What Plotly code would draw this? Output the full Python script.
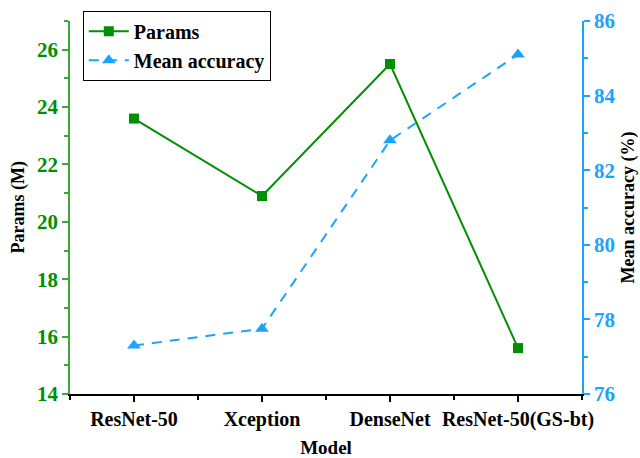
import plotly.graph_objects as go

models = ["ResNet-50", "Xception", "DenseNet", "ResNet-50(GS-bt)"]
params_m = [23.6, 20.9, 25.5, 15.6]
mean_acc = [77.3, 77.75, 82.8, 85.1]
params_ticks = [14, 16, 18, 20, 22, 24, 26]
acc_ticks = [76, 78, 80, 82, 84, 86]

GREEN = "#008f00"
GREEN_AXIS = "#3aaa3a"
BLUE = "#1aa3ff"
FONT = "Liberation Serif"

x_idx = list(range(len(models)))


def b(text):
    return f"<b>{text}</b>"


def font(size, color="black"):
    return dict(family=FONT, size=size, color=color)


fig = go.Figure()
fig.add_trace(go.Scatter(
    x=x_idx, y=params_m, name=b("Params"), mode="lines+markers",
    line=dict(color=GREEN, width=2),
    marker=dict(symbol="square", size=10, color=GREEN),
    yaxis="y",
))
fig.add_trace(go.Scatter(
    x=x_idx, y=mean_acc, name=b("Mean accuracy"), mode="lines+markers",
    line=dict(color=BLUE, width=2, dash="10px,8px"),
    marker=dict(symbol="triangle-up", size=12, color=BLUE),
    yaxis="y2",
))

fig.update_layout(
    width=640, height=458,
    margin=dict(l=70, r=58, t=20, b=64),
    paper_bgcolor="white", plot_bgcolor="white",
    font=dict(family=FONT, color="black"),
    showlegend=True,
    legend=dict(
        x=0.025, y=1.025, xanchor="left", yanchor="top",
        bordercolor="black", borderwidth=1, bgcolor="white",
        font=font(20),
        tracegroupgap=0, itemwidth=40,
    ),
    xaxis=dict(
        range=[-0.5, 3.5], tickmode="array", tickvals=x_idx,
        ticktext=[b(m) for m in models],
        showline=True, linecolor="black", linewidth=1.5, mirror=False,
        ticks="outside", ticklen=6, tickwidth=1.5, tickcolor="black",
        minor=dict(tickvals=[-0.5, 0.5, 1.5, 2.5, 3.5], ticks="outside", ticklen=4, tickwidth=1.5, tickcolor="black"),
        showgrid=False, zeroline=False, automargin=False,
        tickfont=font(20),
        title=dict(text=b("Model"), font=font(19)),
    ),
    yaxis=dict(
        range=[14, 27], tickmode="array", tickvals=params_ticks,
        ticktext=[b(v) for v in params_ticks],
        showline=True, linecolor=GREEN_AXIS, linewidth=1.5,
        ticks="outside", ticklen=6, tickwidth=1.5, tickcolor=GREEN_AXIS,
        minor=dict(tickvals=[15, 17, 19, 21, 23, 25, 27], ticks="outside", ticklen=4, tickwidth=1.5, tickcolor=GREEN_AXIS),
        showgrid=False, zeroline=False, automargin=False,
        tickfont=font(21, GREEN),
    ),
    yaxis2=dict(
        range=[76, 86], tickmode="array", tickvals=acc_ticks,
        ticktext=[b(v) for v in acc_ticks],
        overlaying="y", side="right",
        showline=True, linecolor=BLUE, linewidth=1.5,
        ticks="outside", ticklen=6, tickwidth=1.5, tickcolor=BLUE,
        minor=dict(tickvals=[77, 79, 81, 83, 85], ticks="outside", ticklen=4, tickwidth=1.5, tickcolor=BLUE),
        showgrid=False, zeroline=False, automargin=False,
        tickfont=font(21, BLUE),
    ),
    annotations=[
        dict(text=b("Params (M)"), xref="paper", yref="paper", x=0, y=0.5,
             xanchor="center", yanchor="middle", xshift=-52, textangle=-90,
             showarrow=False, font=font(18)),
        dict(text=b("Mean accuracy (%)"), xref="paper", yref="paper", x=1, y=0.5,
             xanchor="center", yanchor="middle", xshift=46, textangle=-90,
             showarrow=False, font=font(18)),
    ],
)

fig.write_html("out.html")
